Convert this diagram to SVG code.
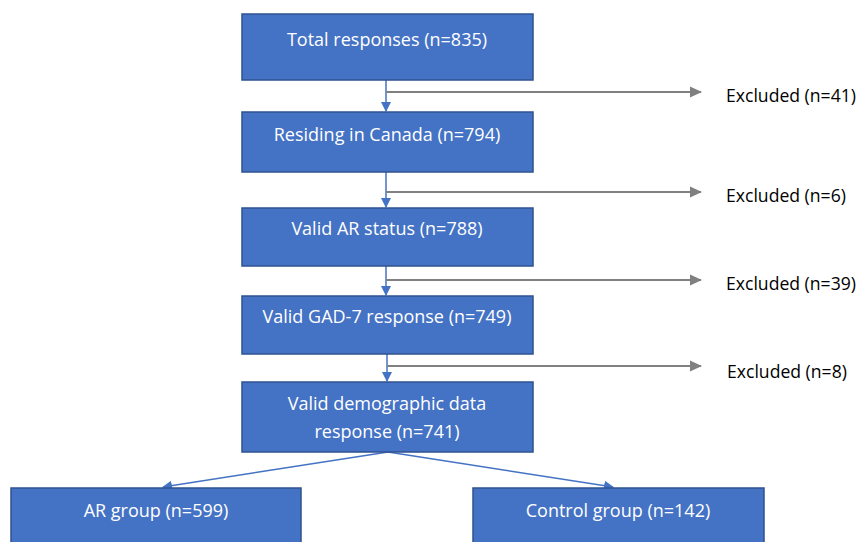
<svg xmlns="http://www.w3.org/2000/svg" width="860" height="542" viewBox="0 0 860 542">
<defs>
<style>
.box{fill:#4472C4;stroke:#2F528F;stroke-width:1.5}
.t{font-family:"Open Sans","Liberation Sans",Arial,sans-serif;font-size:18px;fill:#ffffff;text-anchor:middle}
.x{font-family:"Open Sans","Liberation Sans",Arial,sans-serif;font-size:17.6px;fill:#000000}
.blue{stroke:#4472C4;stroke-width:1.5;fill:none}
.grey{stroke:#808080;stroke-width:2;fill:none}
</style>
<marker id="ab" markerWidth="10" markerHeight="10" refX="9" refY="5" orient="auto" markerUnits="userSpaceOnUse"><path d="M0,0 L10,5 L0,10 Z" fill="#4472C4"/></marker>
<marker id="ag" markerWidth="12" markerHeight="12" refX="11" refY="6" orient="auto" markerUnits="userSpaceOnUse"><path d="M0,0.5 L12,6 L0,11.5 Z" fill="#808080"/></marker>
</defs>
<rect width="860" height="542" fill="#ffffff"/>
<g id="connectors">
<line class="blue" x1="386" y1="80" x2="386" y2="111" marker-end="url(#ab)"/>
<line class="blue" x1="386" y1="172" x2="386" y2="207" marker-end="url(#ab)"/>
<line class="blue" x1="386" y1="266" x2="386" y2="295" marker-end="url(#ab)"/>
<line class="blue" x1="387" y1="354" x2="387" y2="381" marker-end="url(#ab)"/>
<line class="grey" x1="386" y1="92" x2="701" y2="92" marker-end="url(#ag)"/>
<line class="grey" x1="386" y1="192" x2="701" y2="192" marker-end="url(#ag)"/>
<line class="grey" x1="386" y1="280" x2="701" y2="280" marker-end="url(#ag)"/>
<line class="grey" x1="387" y1="366" x2="701" y2="366" marker-end="url(#ag)"/>
<line class="blue" x1="388" y1="452" x2="163" y2="487" marker-end="url(#ab)"/>
<line class="blue" x1="388" y1="452" x2="613" y2="487" marker-end="url(#ab)"/>
</g>
<g id="n1"><rect class="box" x="242" y="14" width="291" height="66"/><text class="t" x="387" y="46">Total responses (n=835)</text></g>
<g id="n2"><rect class="box" x="242" y="112" width="291" height="60"/><text class="t" x="387" y="141">Residing in Canada (n=794)</text></g>
<g id="n3"><rect class="box" x="242" y="208" width="291" height="58"/><text class="t" x="387" y="235">Valid AR status (n=788)</text></g>
<g id="n4"><rect class="box" x="242" y="296" width="291" height="58"/><text class="t" x="387" y="323">Valid GAD-7 response (n=749)</text></g>
<g id="n5"><rect class="box" x="242" y="382" width="291" height="70"/><text class="t" x="387" y="410">Valid demographic data</text><text class="t" x="387" y="438">response (n=741)</text></g>
<g id="n6"><rect class="box" x="11" y="488" width="290" height="60"/><text class="t" x="156" y="517">AR group (n=599)</text></g>
<g id="n7"><rect class="box" x="473" y="488" width="291" height="60"/><text class="t" x="618" y="517">Control group (n=142)</text></g>
<g id="e1"><text class="x" x="726" y="102">Excluded (n=41)</text></g>
<g id="e2"><text class="x" x="726" y="202">Excluded (n=6)</text></g>
<g id="e3"><text class="x" x="726" y="290">Excluded (n=39)</text></g>
<g id="e4"><text class="x" x="727" y="378">Excluded (n=8)</text></g>
</svg>
